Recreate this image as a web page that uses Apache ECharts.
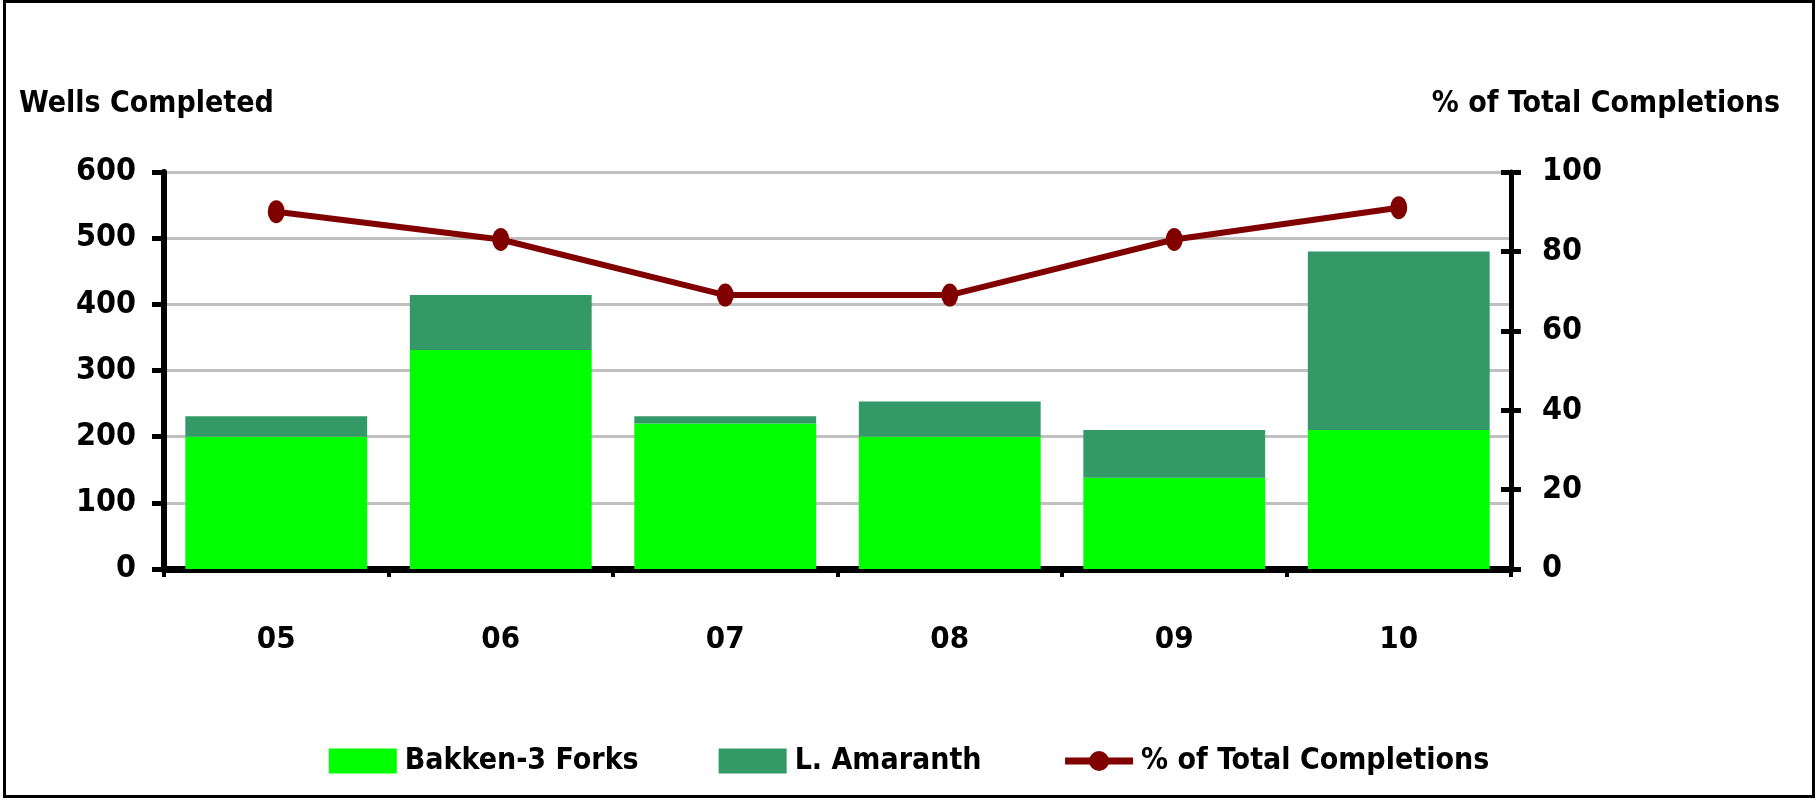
<!DOCTYPE html>
<html>
<head>
<meta charset="utf-8">
<script src="https://cdn.jsdelivr.net/npm/echarts@6/dist/echarts.min.js"></script>
<style>
  html, body { margin: 0; padding: 0; background: #fff; }
  #main { position: absolute; left: 0; top: 0; width: 1818px; height: 801px; }
  #frame { position: absolute; left: 3px; top: 0; width: 1812px; height: 798px;
           border: 3px solid #000; box-sizing: border-box; pointer-events: none; }
</style>
</head>
<body>
<div id="main"></div>
<div id="frame"></div>
<script>
// wells completed by year, stacked, plus share line on right axis
var years = ['05', '06', '07', '08', '09', '10'];
var bakken = [200, 331, 220, 200, 138, 210];
var amaranth = [31, 83, 11, 53, 72, 270];
var pctTotal = [90, 83, 69, 69, 83, 91];
var leftTicks = [0, 100, 200, 300, 400, 500, 600];
var rightTicks = [0, 20, 40, 60, 80, 100];

var FONT = '"Liberation Sans Narrow", "Arial Narrow", "DejaVu Sans Condensed", sans-serif';

var myChart = echarts.init(document.getElementById('main'));

var option = {
	animation: false,
	textStyle: { fontFamily: FONT, fontWeight: 'bold', color: '#000' },
	title: [
		{ text: 'Wells Completed', left: 14, top: 84,
		  textStyle: { fontFamily: FONT, fontWeight: 'bold', fontSize: 30, color: '#000' } },
		{ text: '% of Total Completions', right: 33, top: 84,
		  textStyle: { fontFamily: FONT, fontWeight: 'bold', fontSize: 30, color: '#000' } }
	],
	legend: {
		bottom: 20,
		left: 'center',
		itemWidth: 68,
		itemHeight: 25,
		itemGap: 80,
		textStyle: { fontFamily: FONT, fontWeight: 'bold', fontSize: 30, color: '#000', padding: [0, 0, 0, 3] },
		data: [
			{ name: 'Bakken-3 Forks', icon: 'rect' },
			{ name: 'L. Amaranth', icon: 'rect' },
			{ name: '% of Total Completions', lineStyle: { width: 7 }, itemStyle: { color: '#800000' } }
		]
	},
	grid: { left: 164, right: 307, top: 172, bottom: 232 },
	xAxis: {
		type: 'category',
		data: years,
		boundaryGap: true,
		axisLine: { lineStyle: { color: '#000', width: 7 } },
		axisTick: { show: true, length: 8, lineStyle: { color: '#000', width: 4 } },
		axisLabel: { margin: 55, fontSize: 31, fontWeight: 'bold', fontFamily: FONT, color: '#000' }
	},
	yAxis: [
		{
			type: 'value', position: 'left',
			min: leftTicks[0], max: leftTicks[leftTicks.length - 1], interval: 100,
			axisLine: { show: true, lineStyle: { color: '#000', width: 6 } },
			axisTick: { show: true, length: 12, lineStyle: { color: '#000', width: 5 } },
			axisLabel: { margin: 28, fontSize: 32, fontWeight: 'bold', fontFamily: FONT, color: '#000' },
			splitLine: { show: true, lineStyle: { color: '#C0C0C0', width: 3 } }
		},
		{
			type: 'value', position: 'right',
			min: rightTicks[0], max: rightTicks[rightTicks.length - 1], interval: 20,
			axisLine: { show: true, lineStyle: { color: '#000', width: 5 } },
			axisTick: { show: true, length: 10, lineStyle: { color: '#000', width: 5 } },
			axisLabel: { margin: 31, fontSize: 32, fontWeight: 'bold', fontFamily: FONT, color: '#000' },
			splitLine: { show: false }
		},
		{
			// inner half of the cross ticks on the right axis
			type: 'value', position: 'right',
			min: 0, max: 100, interval: 20,
			axisLine: { show: false },
			axisTick: { show: true, inside: true, length: 10, lineStyle: { color: '#000', width: 5 } },
			axisLabel: { show: false },
			splitLine: { show: false }
		}
	],
	series: [
		{
			name: 'Bakken-3 Forks', type: 'bar', stack: 'wells',
			barCategoryGap: '19%',
			itemStyle: { color: '#00FF00' },
			data: bakken
		},
		{
			name: 'L. Amaranth', type: 'bar', stack: 'wells',
			itemStyle: { color: '#339966' },
			data: amaranth
		},
		{
			name: '% of Total Completions', type: 'line', yAxisIndex: 1,
			symbol: 'circle', symbolSize: [17, 23],
			lineStyle: { color: '#800000', width: 6 },
			itemStyle: { color: '#800000' },
			data: pctTotal
		}
	]
};

myChart.setOption(option);
</script>
</body>
</html>
